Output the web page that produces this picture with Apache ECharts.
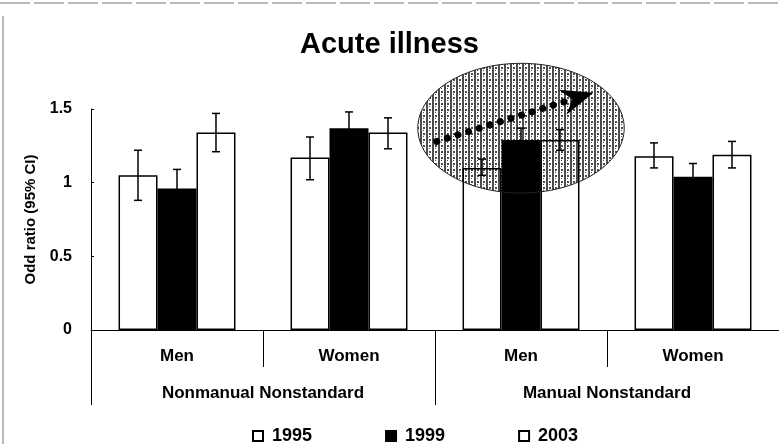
<!DOCTYPE html>
<html>
<head>
<meta charset="utf-8">
<script src="https://cdn.jsdelivr.net/npm/echarts@6/dist/echarts.min.js"></script>
<style>
  html, body { margin: 0; padding: 0; background: #fff; }
  #chart { width: 779px; height: 444px; }
</style>
</head>
<body>
<div id="chart"></div>
<script>
var categories = ['Men', 'Women', 'Men', 'Women'];
var groups = ['Nonmanual Nonstandard', 'Manual Nonstandard'];
var years = ['1995', '1999', '2003'];

// odds ratios
var or1995 = [1.05, 1.17, 1.10, 1.18];
var or1999 = [0.96, 1.37, 1.29, 1.04];
var or2003 = [1.34, 1.34, 1.29, 1.19];

// 95% CI
var lo1995 = [0.88, 1.02, 1.05, 1.10];
var hi1995 = [1.22, 1.31, 1.16, 1.27];
var lo1999 = [0.84, 1.27, 1.20, 0.96];
var hi1999 = [1.09, 1.48, 1.37, 1.13];
var lo2003 = [1.21, 1.23, 1.22, 1.10];
var hi2003 = [1.47, 1.44, 1.36, 1.28];

var yTicks = [0, 0.5, 1, 1.5];

var font = 'Liberation Sans, Arial, sans-serif';
var catGap = 0.32;

var errData = [];
[[lo1995, hi1995], [lo1999, hi1999], [lo2003, hi2003]].forEach(function (p, k) {
  categories.forEach(function (c, i) {
    errData.push([i, p[0][i], p[1][i], k]);
  });
});

function renderErr(params, api) {
  var i = api.value(0), k = api.value(3);
  var lo = api.coord([i, api.value(1)]);
  var hi = api.coord([i, api.value(2)]);
  var bw = api.size([1, 0])[0] * (1 - catGap) / 3;
  var x = lo[0] + (k - 1) * bw;
  var cap = 4;
  var st = { stroke: '#000', lineWidth: 1.5 };
  return {
    type: 'group',
    children: [
      { type: 'line', shape: { x1: x, y1: hi[1], x2: x, y2: lo[1] }, style: st },
      { type: 'line', shape: { x1: x - cap, y1: hi[1], x2: x + cap, y2: hi[1] }, style: st },
      { type: 'line', shape: { x1: x - cap, y1: lo[1], x2: x + cap, y2: lo[1] }, style: st }
    ]
  };
}

function barSeries(name, data, fill) {
  return {
    name: name,
    type: 'bar',
    data: data,
    barGap: '0%',
    barCategoryGap: (catGap * 100) + '%',
    itemStyle: { color: fill, borderColor: '#000', borderWidth: 1.5 }
  };
}

var chart = echarts.init(document.getElementById('chart'));

chart.setOption({
  animation: false,
  backgroundColor: '#fff',
  title: {
    text: 'Acute illness',
    left: 'center',
    top: 30,
    padding: 0,
    textStyle: { fontFamily: font, fontSize: 29, fontWeight: 'bold', color: '#000' }
  },
  legend: {
    data: years,
    left: 252,
    top: 427,
    padding: 0,
    itemWidth: 10,
    itemHeight: 10,
    itemGap: 73,
    icon: 'rect',
    textStyle: { fontFamily: font, fontSize: 18, fontWeight: 'bold', color: '#000', padding: [0, 0, 0, 4] }
  },
  grid: { left: 91, right: 0, top: 109, bottom: 114 },
  xAxis: [{
    type: 'category',
    data: categories,
    position: 'bottom',
    axisLine: { lineStyle: { color: '#000', width: 1 } },
    axisTick: { show: true, length: 37, lineStyle: { color: '#000', width: 1 } },
    axisLabel: { margin: 18, fontFamily: font, fontSize: 17, fontWeight: 'bold', color: '#000' }
  }, {
    type: 'category',
    data: groups,
    position: 'bottom',
    axisLine: { show: false },
    axisTick: { show: true, length: 75, lineStyle: { color: '#000', width: 1 } },
    axisLabel: { margin: 55, fontFamily: font, fontSize: 17, fontWeight: 'bold', color: '#000' }
  }],
  yAxis: {
    type: 'value',
    min: yTicks[0],
    max: yTicks[yTicks.length - 1],
    interval: 0.5,
    name: 'Odd ratio (95% CI)',
    nameLocation: 'middle',
    nameRotate: 90,
    nameGap: 52,
    nameTextStyle: { fontFamily: font, fontSize: 15, fontWeight: 'bold', color: '#000' },
    axisLine: { show: true, lineStyle: { color: '#000', width: 1 } },
    axisTick: { show: true, inside: true, length: 3, lineStyle: { color: '#000' } },
    splitLine: { show: false },
    axisLabel: { margin: 19, fontFamily: font, fontSize: 16, fontWeight: 'bold', color: '#000' }
  },
  series: [
    barSeries('1995', or1995, '#fff'),
    barSeries('1999', or1999, '#000'),
    barSeries('2003', or2003, '#fff'),
    {
      name: 'CI',
      type: 'custom',
      renderItem: renderErr,
      data: errData,
      encode: { x: 0, y: [1, 2] },
      z: 3
    }
  ]
});

// highlight ellipse + dotted arrow around Manual / Men
var pat = document.createElement('canvas');
pat.width = 6; pat.height = 6;
var g = pat.getContext('2d');
g.fillStyle = 'rgba(0,0,0,0.7)';
g.fillRect(0, 0, 2, 6);
g.fillRect(3, 1, 2, 2);
g.fillRect(3, 4, 1, 1);

var c0 = chart.convertToPixel({ gridIndex: 0 }, [2, 0]);
var c1 = chart.convertToPixel({ gridIndex: 0 }, [3, 1]);
var catW = c1[0] - c0[0], unit = c0[1] - c1[1];
function px(dx, v) { return [c0[0] + dx * catW, c0[1] - v * unit]; }

var ctr = px(0, 1.37);
var a0 = px(-0.49, 1.28), tip = px(0.42, 1.61);
var dx = tip[0] - a0[0], dy = tip[1] - a0[1];
var len = Math.sqrt(dx * dx + dy * dy);
var ux = dx / len, uy = dy / len, nx = -uy, ny = ux;
function back(d, s) { return [tip[0] - ux * d + nx * s, tip[1] - uy * d + ny * s]; }

chart.setOption({
  graphic: [
    {
      type: 'ellipse', z: 100,
      shape: { cx: ctr[0], cy: ctr[1], rx: 0.6 * catW, ry: 0.44 * unit },
      style: { fill: { image: pat, repeat: 'repeat' }, stroke: '#222', lineWidth: 1 }
    },
    {
      type: 'line', z: 101,
      shape: { x1: a0[0], y1: a0[1], x2: back(26, 0)[0], y2: back(26, 0)[1] },
      style: { stroke: '#000', lineWidth: 7, lineCap: 'round', lineDash: [0.1, 11] }
    },
    {
      type: 'polygon', z: 101,
      shape: { points: [tip, back(32, 13), back(22, 0), back(32, -13)] },
      style: { fill: '#000' }
    },
    {
      type: 'line', z: 90,
      shape: { x1: 0, y1: 3, x2: 779, y2: 3 },
      style: { stroke: '#777', lineWidth: 1, lineDash: [30, 4] }
    },
    {
      type: 'line', z: 90,
      shape: { x1: 3, y1: 16, x2: 3, y2: 444 },
      style: { stroke: '#777', lineWidth: 1 }
    }
  ]
});
</script>
</body>
</html>
